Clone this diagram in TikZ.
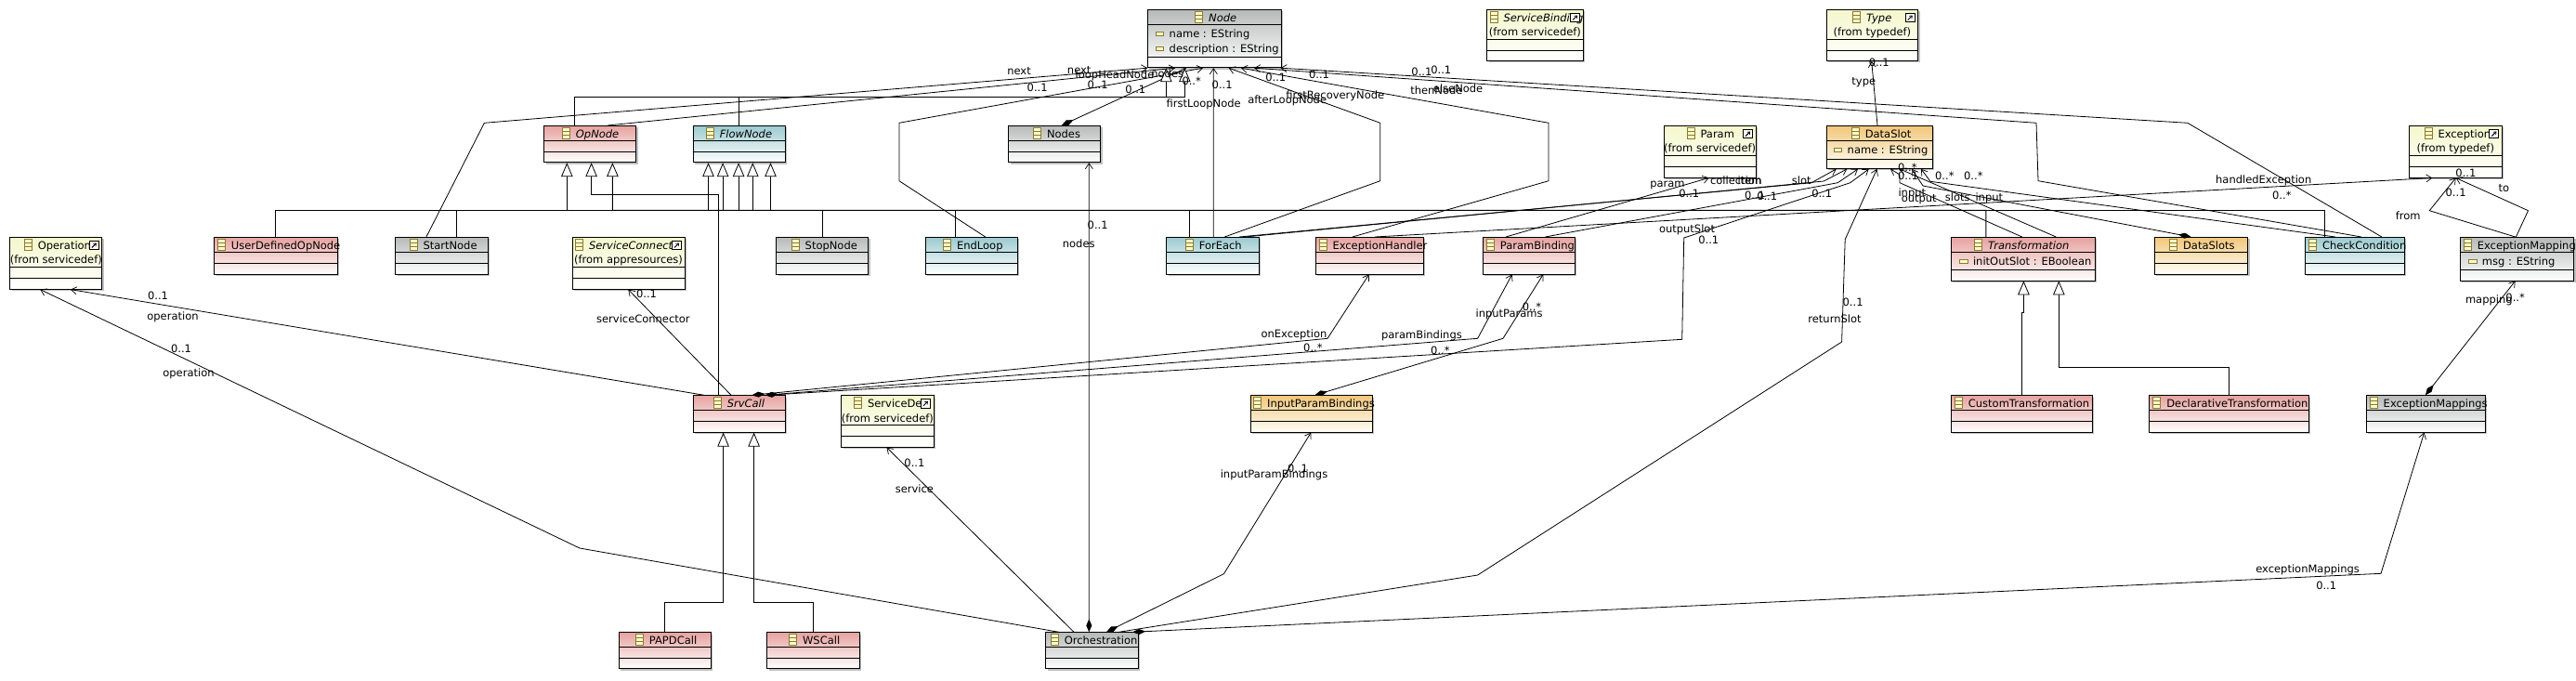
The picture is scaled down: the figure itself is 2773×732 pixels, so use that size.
\documentclass[tikz,border=0pt]{standalone}
\usepackage{fontspec}
\setmainfont{DejaVu Sans}
\usetikzlibrary{arrows.meta,shadows}
\definecolor{redA}{HTML}{E6A3A0}\definecolor{redB}{HTML}{FFFFFF}
\definecolor{grayA}{HTML}{B8BABA}\definecolor{grayB}{HTML}{FFFFFF}
\definecolor{tealA}{HTML}{9CCBD0}\definecolor{tealB}{HTML}{FFFFFF}
\definecolor{yelA}{HTML}{F4F7CC}\definecolor{yelB}{HTML}{FFFFFF}
\definecolor{oraA}{HTML}{F2C67A}\definecolor{oraB}{HTML}{FFFFFA}
\definecolor{icoB}{HTML}{8A7A30}\definecolor{icoF}{HTML}{FFFBC8}
\tikzset{
  x=1pt,y=-1pt,
  umlbox/.style={draw=black,line width=0.9pt,inner sep=0pt,anchor=north west,
    drop shadow={shadow xshift=2pt,shadow yshift=-2pt,fill=black!35,opacity=.7}},
  redcls/.style={top color=redA,bottom color=redB},
  graycls/.style={top color=grayA,bottom color=grayB},
  tealcls/.style={top color=tealA,bottom color=tealB},
  yelcls/.style={top color=yelA,bottom color=yelB},
  oracls/.style={top color=oraA,bottom color=oraB},
  titletext/.style={inner sep=0pt,anchor=base west,font=\fontsize{11.5}{14}\selectfont},
  lbl/.style={inner sep=0pt,text height=9pt,text depth=0pt,font=\fontsize{11.5}{14}\selectfont},
  sep/.style={line width=0.8pt},
  assoc/.style={line width=0.8pt,-{Straight Barb[length=6pt,width=8pt,line width=0.7pt]}},
  compo/.style={line width=0.8pt,{Diamond[length=14pt,width=6pt,fill=black]}-{Straight Barb[length=6pt,width=8pt,line width=0.7pt]}},
  gener/.style={line width=0.9pt,-{Triangle[open,length=15pt,width=12.5pt,fill=white,line width=0.8pt]}}
}
\newcounter{lblno}
\newcommand{\cls}[8]{%
  \node[umlbox,#6,minimum width=#4pt,minimum height=#5pt] (#1) at (#2,#3) {};
  \draw[sep] ([yshift=-#7pt]#1.north west) -- ([yshift=-#7pt]#1.north east);
  \draw[sep] ([yshift=-#8pt]#1.north west) -- ([yshift=-#8pt]#1.north east);
}
\newcommand{\ttl}[4]{%
  \begin{scope}[shift={(#2,#3)}]
    \draw[icoB,fill=icoF,line width=0.7pt] (0,2.3) rectangle (8,14.3);
    \draw[icoB,line width=0.7pt] (0,6.3) -- (8,6.3) (0,10.3) -- (8,10.3);
    \node[titletext] (#1-t) at (14.3,13.2) {#4};
  \end{scope}
}
\newcommand{\attr}[4]{% name x y text
  \begin{scope}[shift={(#2,#3)}]
    \draw[icoB,fill=icoF,line width=0.8pt] (0,-2) rectangle (8.4,2);
    \node[titletext] (#1) at (14.2,4.2) {#4};
  \end{scope}
}
\newcommand{\ext}[1]{%
  \draw[black,fill=white,line width=0.9pt] ([shift={(-14,4.3)}]#1.north east) rectangle ([shift={(-4,13.7)}]#1.north east);
  \draw[black,line width=1pt,-{Straight Barb[length=2.5pt,width=4pt,line width=.7pt]}] ([shift={(-11.5,11.5)}]#1.north east) -- ([shift={(-6.5,6.5)}]#1.north east);
}
\newcommand{\from}[2]{\node[lbl] (#1-f) at ([yshift=-24.4pt]#1.north) {#2};}
\newcommand{\lb}[3]{\stepcounter{lblno}\node[lbl] (lab\thelblno) at (#1,#2) {#3};}
\begin{document}
\begin{tikzpicture}
\useasboundingbox[fill=white] (0,0) rectangle (2773,732);
% classes
\cls{Operation}{10.3}{255}{99.1}{55.7}{yelcls}{32}{44} \ttl{Operation}{26.3}{255}{Operation} \ext{Operation} \from{Operation}{(from servicedef)}
\cls{UserOp}{230.4}{255}{132.1}{39.5}{redcls}{16.3}{28.3} \ttl{UserOp}{234.4}{255}{UserDefinedOpNode}
\cls{Start}{425.4}{255}{99.1}{39.5}{graycls}{16.3}{28.3} \ttl{Start}{441}{255}{StartNode}
\cls{OpNode}{585.3}{135}{99.1}{39.3}{redcls}{16.3}{28.3} \ttl{OpNode}{605.4}{135}{\itshape OpNode}
\cls{SvcConn}{615.6}{255}{121}{55.7}{yelcls}{32}{44} \ttl{SvcConn}{619.6}{255}{\itshape ServiceConnect} \ext{SvcConn} \from{SvcConn}{(from appresources)}
\cls{Flow}{745.5}{135}{99.1}{39.3}{tealcls}{16.3}{28.3} \ttl{Flow}{760.3}{135}{\itshape FlowNode}
\cls{Stop}{835.3}{255}{99.1}{39.5}{graycls}{16.3}{28.3} \ttl{Stop}{852.2}{255}{StopNode}
\cls{EndLoop}{995.5}{255}{99.1}{39.5}{tealcls}{16.3}{28.3} \ttl{EndLoop}{1015.6}{255}{EndLoop}
\cls{Nodes}{1085.3}{135}{99.1}{39.3}{graycls}{16.3}{28.3} \ttl{Nodes}{1112.5}{135}{Nodes}
\cls{ForEach}{1255.4}{255}{99.1}{39.5}{tealcls}{16.3}{28.3} \ttl{ForEach}{1276.3}{255}{ForEach}
\cls{Node}{1235}{10}{144}{62.3}{graycls}{16.3}{51.3} \ttl{Node}{1286.7}{10}{\itshape Node}
\attr{Node-a}{1244.3}{36.7}{name : EString}
\attr{Node-b}{1244.3}{52.7}{description : EString}
\cls{SvcBind}{1600.4}{10}{103.2}{55}{yelcls}{32.7}{44} \ttl{SvcBind}{1604}{10}{\itshape ServiceBinding} \ext{SvcBind}
\node[lbl] (SvcBind-f) at ([yshift=-24.4pt]SvcBind.north) {(from servicedef)};
\cls{Type}{1965.6}{10}{98.7}{55}{yelcls}{32.7}{44} \ttl{Type}{1994.6}{10}{\itshape Type} \ext{Type} \from{Type}{(from typedef)}
\cls{Param}{1790.6}{135}{99.1}{55.5}{yelcls}{32.3}{44.3} \ttl{Param}{1816}{135}{Param} \ext{Param} \from{Param}{(from servicedef)}
\cls{DataSlot}{1965.6}{135}{113.9}{46}{oracls}{16.7}{36} \ttl{DataSlot}{1993.3}{135}{DataSlot}
\attr{DataSlot-a}{1974.3}{161.7}{name : EString}
\cls{ExHandler}{1415.6}{255}{116.1}{39.5}{redcls}{16.3}{28.3} \ttl{ExHandler}{1420}{255}{ExceptionHandler}
\cls{ParamB}{1595.5}{255}{99.1}{39.5}{redcls}{16.3}{28.3} \ttl{ParamB}{1600.4}{255}{ParamBinding}
\cls{Transf}{2100}{255}{154.6}{46.5}{redcls}{16.3}{35.3} \ttl{Transf}{2125.7}{255}{\itshape Transformation}
\attr{Transf-a}{2109.6}{281.7}{initOutSlot : EBoolean}
\cls{DataSlots}{2318.6}{255}{100.7}{39.5}{oracls}{16.3}{28.3} \ttl{DataSlots}{2335.6}{255}{DataSlots}
\cls{Check}{2481}{255}{106.8}{39.5}{tealcls}{16.3}{28.3} \ttl{Check}{2485.5}{255}{CheckCondition}
\cls{Exc}{2592.6}{135}{100.4}{55.6}{yelcls}{32.3}{44.3} \ttl{Exc}{2610}{135}{Exception} \ext{Exc} \from{Exc}{(from typedef)}
\cls{ExMap}{2648}{255}{122.3}{46.5}{graycls}{16.3}{35.3} \ttl{ExMap}{2652.3}{255}{ExceptionMapping}
\attr{ExMap-a}{2657.5}{281.7}{msg : EString}
\cls{SrvCall}{745.5}{425.3}{99.1}{39.4}{redcls}{16}{28} \ttl{SrvCall}{768.3}{425.3}{\itshape SrvCall}
\cls{SvcDef}{905.4}{425.3}{99.1}{55.4}{yelcls}{32}{44} \ttl{SvcDef}{919.6}{425.3}{ServiceDef} \ext{SvcDef} \from{SvcDef}{(from servicedef)}
\cls{InputPB}{1345.5}{425.3}{131.3}{39.4}{oracls}{16}{28} \ttl{InputPB}{1349.6}{425.3}{InputParamBindings}
\cls{PAPD}{665.6}{680.3}{99.1}{39}{redcls}{16}{28} \ttl{PAPD}{684.4}{680.3}{PAPDCall}
\cls{WS}{825.4}{680.3}{99.2}{39}{redcls}{16}{28} \ttl{WS}{849.6}{680.3}{WSCall}
\cls{Orch}{1125.4}{680.3}{99.2}{39}{graycls}{16}{28} \ttl{Orch}{1131.3}{680.3}{Orchestration}
\cls{CustomT}{2100}{425.3}{151.6}{39.4}{redcls}{16}{28} \ttl{CustomT}{2104.4}{425.3}{CustomTransformation}
\cls{DeclT}{2313.4}{425.3}{171.6}{39.4}{redcls}{16}{28} \ttl{DeclT}{2317.8}{425.3}{DeclarativeTransformation}
\cls{ExMaps}{2546.9}{425.3}{128}{39.4}{graycls}{16}{28} \ttl{ExMaps}{2551.2}{425.3}{ExceptionMappings}
% associations to Node
\draw[assoc] ([xshift=33.5pt]Start.north west) -- (521.4,132.3) -- ([xshift=0.3pt]Node.south west);
\draw[assoc] ([xshift=68.7pt]OpNode.north west) -- ([xshift=30pt]Node.south west);
\draw[assoc] ([xshift=65.2pt]EndLoop.north west) -- (967.9,194.7) -- (967.9,132.3) -- ([xshift=60pt]Node.south west);
\draw[compo] ([xshift=57.4pt]Nodes.north west) -- ([xshift=42pt]Node.south west);
\draw[assoc] ([xshift=50.9pt]ForEach.north west) -- ([xshift=71.3pt]Node.south west);
\draw[assoc] ([xshift=62.9pt]ForEach.north west) -- (1485.7,194.7) -- (1485.7,132.3) -- ([xshift=87.7pt]Node.south west);
\draw[assoc] ([xshift=40.2pt]ExHandler.north west) -- (1667,194.7) -- (1667,132.3) -- ([xshift=101pt]Node.south west);
\draw[assoc] ([xshift=61pt]Check.north west) -- (2194,194.7) -- (2192,132.3) -- ([xshift=115pt]Node.south west);
\draw[assoc] ([xshift=82.9pt]Check.north west) -- (2354.8,132.3) -- ([xshift=143.5pt]Node.south west);
% Orchestration
\draw[compo] ([xshift=46.9pt]Orch.north west) -- ([xshift=87pt]Nodes.south west);
\draw[compo] ([xshift=65.6pt]Orch.north west) -- (1317.4,617.7) -- ([xshift=65.7pt]InputPB.south west);
\draw[assoc] ([xshift=79.1pt]Orch.north west) -- (1590.6,619) -- (1982.6,368) -- (1986.2,257.7) -- ([xshift=54.9pt]DataSlot.south west);
\draw[compo] ([xshift=93.8pt]Orch.north west) -- (2563,617.3) -- ([xshift=62.7pt]ExMaps.south west);
\draw[assoc] ([xshift=30.6pt]Orch.north west) -- ([xshift=49.1pt]SvcDef.south west);
\draw[assoc] ([xshift=14.3pt]Orch.north west) -- (624,590) -- ([xshift=33pt]Operation.south west);
% SrvCall
\draw[assoc] ([xshift=12.5pt]SrvCall.north west) -- ([xshift=65.6pt]Operation.south west);
\draw[assoc] ([xshift=41.5pt]SrvCall.north west) -- ([xshift=60.7pt]SvcConn.south west);
\draw[compo] ([xshift=63.9pt]SrvCall.north west) -- (1429,364.3) -- ([xshift=58.1pt]ExHandler.south west);
\draw[compo] ([xshift=78.2pt]SrvCall.north west) -- (1590.6,364.3) -- ([xshift=32.2pt]ParamB.south west);
\draw[compo] ([xshift=70pt]InputPB.north west) -- (1617.9,364.3) -- ([xshift=65.7pt]ParamB.south west);
\draw[assoc] ([xshift=80.5pt]SrvCall.north west) -- (1810.7,365.3) -- (1812.7,256) -- (1991.7,196.7) -- ([xshift=46.1pt]DataSlot.south west);
% to DataSlot
\draw[assoc] ([xshift=78.6pt]ForEach.north west) -- (1950,196.7) -- ([xshift=11.1pt]DataSlot.south west);
\draw[assoc] ([xshift=85pt]ForEach.north west) -- (1963.3,195) -- ([xshift=22.7pt]DataSlot.south west);
\draw[assoc] ([xshift=67.9pt]ParamB.north west) -- (1978.3,196.7) -- ([xshift=34.4pt]DataSlot.south west);
\draw[assoc] ([xshift=25.5pt]ParamB.north west) -- ([xshift=49.1pt]Param.south west);
\draw[assoc] ([xshift=64.4pt]ExHandler.north west) -- ([xshift=25.7pt]Exc.south west);
\draw[assoc] ([xshift=76.7pt]Transf.north west) -- (2045,196.7) -- (2045,188) -- ([xshift=69.4pt]DataSlot.south west);
\draw[assoc] ([xshift=113.3pt]Transf.north west) -- ([xshift=79.4pt]DataSlot.south west);
\draw[compo] ([xshift=40pt]DataSlots.north west) -- (2070,200) -- ([xshift=92.4pt]DataSlot.south west);
\draw[assoc] ([xshift=32.8pt]Check.north west) -- (2078,195.3) -- ([xshift=102.4pt]DataSlot.south west);
% exceptions and type
\draw[assoc] ([xshift=59.6pt]ExMap.north west) -- (2615.2,226.7) -- ([xshift=51pt]Exc.south west);
\draw[assoc] ([xshift=60.4pt]ExMap.north west) -- (2721.5,226.7) -- ([xshift=51pt]Exc.south west);
\draw[compo] ([xshift=64pt]ExMaps.north west) -- ([xshift=59.6pt]ExMap.south west);
\draw[assoc] ([xshift=55.4pt]DataSlot.north west) -- ([xshift=49.1pt]Type.south west);
% generalizations
\draw[gener] ([xshift=66pt]UserOp.north west) -- (296.4,226.3) -- (610.3,226.3) -- ([xshift=25pt]OpNode.south west);
\draw[gener] ([xshift=27.7pt]SrvCall.north west) -- (773.2,209.3) -- (636.6,209.3) -- ([xshift=51.3pt]OpNode.south west);
\draw[gener] ([xshift=37.9pt]Transf.north west) -- (2137.9,226.3) -- (659.4,226.3) -- ([xshift=74.1pt]OpNode.south west);
\draw[gener] ([xshift=50pt]Stop.north west) -- (885.3,226.3) -- (762.5,226.3) -- ([xshift=17pt]Flow.south west);
\draw[gener] ([xshift=33.1pt]EndLoop.north west) -- (1028.6,226.3) -- (778.1,226.3) -- ([xshift=32.6pt]Flow.south west);
\draw[gener] ([xshift=25pt]ForEach.north west) -- (1280.4,226.3) -- (795.1,226.3) -- ([xshift=49.6pt]Flow.south west);
\draw[gener] ([xshift=66.1pt]Start.north west) -- (491.5,226.3) -- (810.3,226.3) -- ([xshift=64.8pt]Flow.south west);
\draw[gener] ([xshift=21.4pt]Check.north west) -- (2502.4,226.3) -- (829.5,226.3) -- ([xshift=84pt]Flow.south west);
\draw[gener] ([xshift=33pt]OpNode.north west) -- (618.3,104.3) -- (1275.3,104.3) -- ([xshift=40.3pt]Node.south west);
\draw[gener] ([xshift=50pt]Flow.north west) -- (795.5,104.3) -- (1255.3,104.3) -- ([xshift=20.3pt]Node.south west);
\draw[gener] ([xshift=50pt]PAPD.north west) -- (715.6,648.3) -- (778.6,648.3) -- ([xshift=33.1pt]SrvCall.south west);
\draw[gener] ([xshift=50pt]WS.north west) -- (875.4,648.3) -- (811.6,648.3) -- ([xshift=66.1pt]SrvCall.south west);
\draw[gener] ([xshift=76.7pt]CustomT.north west) -- (2176.7,336) -- (2178.4,336) -- ([xshift=78.4pt]Transf.south west);
\draw[gener] ([xshift=86.3pt]DeclT.north west) -- (2399.7,395) -- (2216.3,395) -- ([xshift=116.3pt]Transf.south west);
% labels
\lb{1097}{76}{next}\lb{1161.7}{75}{next}\lb{1200}{80}{loopHeadNode}\lb{1256.7}{79}{nodes}
\lb{1116.7}{94}{0..1}\lb{1181.7}{90.7}{0..1}\lb{1222.3}{96}{0..1}\lb{1282.7}{86.7}{0..*}\lb{1315.7}{90.7}{0..1}
\lb{1295.7}{110.7}{firstLoopNode}\lb{1385.7}{107}{afterLoopNode}\lb{1437.3}{101.7}{firstRecoveryNode}
\lb{1373.3}{83.3}{0..1}\lb{1420}{80}{0..1}\lb{1530.4}{76.7}{0..1}\lb{1551.3}{75}{0..1}
\lb{1546.4}{96.7}{thenNode}\lb{1569.6}{95}{elseNode}
\lb{1181.7}{241.7}{0..1}\lb{1161.2}{262}{nodes}
\lb{1371.5}{510}{inputParamBindings}\lb{1397}{504}{0..1}
\lb{1994.6}{325}{0..1}\lb{1975}{342.7}{returnSlot}
\lb{2484.1}{612}{exceptionMappings}\lb{2504.2}{630}{0..1}
\lb{984.4}{497.7}{0..1}\lb{984.4}{526}{service}
\lb{195}{374.7}{0..1}\lb{203}{401}{operation}\lb{170}{317.7}{0..1}\lb{186}{340}{operation}
\lb{696}{316}{0..1}\lb{692.4}{342.7}{serviceConnector}
\lb{1393}{359}{onException}\lb{1413.4}{374}{0..*}
\lb{1530.4}{360}{paramBindings}\lb{1550.4}{376.7}{0..*}
\lb{1624.6}{336.7}{inputParams}\lb{1649}{330}{0..*}
\lb{1816}{246}{outputSlot}\lb{1839.3}{257.7}{0..1}
\lb{1868.7}{194.3}{collection}\lb{1883.5}{194.3}{item}\lb{1818.3}{208.3}{0..1}
\lb{1889}{210}{0..1}\lb{1902.2}{210.7}{0..1}\lb{1961.2}{208.3}{0..1}\lb{1939.3}{194}{slot}\lb{1795}{196.7}{param}
\lb{2436.7}{192.7}{handledException}\lb{2456.3}{210.3}{0..*}
\lb{2053.3}{180}{0..*}\lb{2054}{189.3}{0..1}\lb{2058.3}{206.7}{input}\lb{2065.7}{212.7}{output}
\lb{2107.3}{211.7}{slots}\lb{2141.3}{212.3}{input}\lb{2093.3}{189.3}{0..*}\lb{2124.3}{189.3}{0..*}
\lb{2022.8}{66.7}{0..1}\lb{2006.3}{87.3}{type}
\lb{2643.6}{206.7}{0..1}\lb{2592.2}{231.7}{from}\lb{2695.4}{201.7}{to}\lb{2654.4}{186}{0..1}
\lb{2679.3}{321.7}{mapping}\lb{2707.6}{320}{0..*}
\end{tikzpicture}
\end{document}
